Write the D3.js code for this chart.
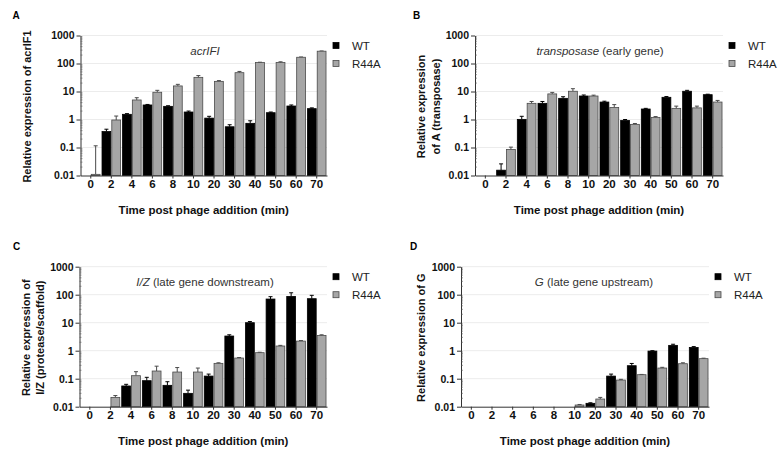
<!DOCTYPE html>
<html>
<head>
<meta charset="utf-8">
<script src="https://cdn.jsdelivr.net/npm/d3@7"></script>
<style>
  body { margin: 0; background: #fff; }
  svg { display: block; font-family: "Liberation Sans", Arial, sans-serif; }
</style>
</head>
<body>
<svg id="fig" width="778" height="451"></svg>
<script>
// time points (x categories) and log axis ticks
var timePoints = ["0", "2", "4", "6", "8", "10", "20", "30", "40", "50", "60", "70"];
var yTicks = [0.01, 0.1, 1, 10, 100, 1000];
var yTickLabels = ["0.01", "0.1", "1", "10", "100", "1000"];
var seriesNames = ["WT", "R44A"];

// A - acrIF1
var acrWT      = [null, 0.37, 1.53, 3.3, 2.95, 1.85, 1.12, 0.55, 0.73, 1.75, 3.03, 2.44];
var acrWTErr   = [null, 0.45, 1.62, 3.45, 3.1, 2.0, 1.3, 0.65, 0.9, 1.85, 3.3, 2.6];
var acrR44A    = [0.011, 0.96, 4.98, 9.4, 15.8, 32, 23, 47, 108, 108, 167, 275];
var acrR44AErr = [0.115, 1.33, 6.0, 11, 18, 37, 24.5, 52, 111, 115, 171, 280];

// B - transposase (early gene)
var tnpWT      = [null, 0.0155, 1.01, 3.78, 5.7, 6.9, 4.2, 0.93, 2.37, 6.2, 10.2, 7.7];
var tnpWTErr   = [null, 0.026, 1.3, 4.4, 6.5, 7.5, 4.5, 1.0, 2.5, 6.6, 11, 8.0];
var tnpR44A    = [null, 0.085, 3.78, 8.2, 10.2, 6.9, 2.7, 0.67, 1.19, 2.5, 2.6, 4.2];
var tnpR44AErr = [null, 0.103, 4.4, 9.3, 12.6, 7.4, 3.4, 0.72, 1.27, 3.0, 3.0, 4.8];

// C - I/Z (late gene downstream)
var izWT      = [null, null, 0.055, 0.085, 0.058, 0.03, 0.124, 3.34, 10, 70, 87, 72];
var izWTErr   = [null, null, 0.063, 0.112, 0.078, 0.039, 0.146, 3.7, 11, 85, 117, 95];
var izR44A    = [null, 0.0215, 0.128, 0.188, 0.173, 0.173, 0.353, 0.547, 0.85, 1.47, 2.2, 3.5];
var izR44AErr = [null, 0.025, 0.178, 0.28, 0.25, 0.24, 0.37, 0.57, 0.88, 1.55, 2.3, 3.7];

// D - G (late gene upstream)
var gWT      = [null, null, null, null, null, null, 0.0132, 0.124, 0.291, 0.97, 1.55, 1.31];
var gWTErr   = [null, null, null, null, null, null, 0.0138, 0.146, 0.35, 1.0, 1.7, 1.4];
var gR44A    = [null, null, null, null, null, 0.0115, 0.0188, 0.0896, 0.139, 0.24, 0.343, 0.52];
var gR44AErr = [null, null, null, null, null, 0.012, 0.0215, 0.095, 0.142, 0.255, 0.37, 0.54];

var colors = { WT: "#000000", R44A: "#a6a6a6" };
var strokes = { WT: "#000000", R44A: "#4a4a4a" };

var svg = d3.select("#fig");

function drawPanel(p) {
    var g = svg.append("g");
    var x = d3.scaleBand().domain(timePoints).range([p.x0, p.x1]);
    var xs = d3.scaleBand().domain(seriesNames).range([0, x.bandwidth()])
        .paddingInner(0.1).paddingOuter(0.1);
    var y = d3.scaleLog().domain([0.01, 1000]).range([p.y1, p.y0]);

    // faint grid at the decades
    g.selectAll(".grid").data(yTicks.slice(1)).enter().append("line")
        .attr("x1", p.x0).attr("x2", p.x1)
        .attr("y1", function(d) { return y(d); }).attr("y2", function(d) { return y(d); })
        .style("stroke", "#ececec").style("stroke-width", 1);

    // bars + error bars
    var series = [
        { name: "WT", vals: p.wt, errs: p.wtErr },
        { name: "R44A", vals: p.r44a, errs: p.r44aErr }
    ];
    series.forEach(function(s) {
        var pts = timePoints.map(function(t, i) {
            return { t: t, v: s.vals[i], e: s.errs[i] };
        }).filter(function(d) { return d.v != null; });

        g.selectAll(".err" + s.name).data(pts.filter(function(d) { return d.e != null; }))
            .enter().append("path")
            .attr("d", function(d) {
                var cx = x(d.t) + xs(s.name) + xs.bandwidth() / 2;
                return "M" + cx + "," + y(d.v) + "V" + y(d.e) +
                    "M" + (cx - 2) + "," + y(d.e) + "H" + (cx + 2);
            })
            .style("fill", "none").style("stroke", strokes[s.name]).style("stroke-width", 1);

        g.selectAll(".bar" + s.name).data(pts).enter().append("rect")
            .attr("x", function(d) { return x(d.t) + xs(s.name); })
            .attr("width", xs.bandwidth())
            .attr("y", function(d) { return y(d.v); })
            .attr("height", function(d) { return Math.max(0.5, y(0.01) - y(d.v)); })
            .style("fill", colors[s.name])
            .style("stroke", strokes[s.name]).style("stroke-width", 0.8);
    });

    // x axis
    var xAxis = g.append("g").attr("transform", "translate(0," + p.y1 + ")")
        .call(d3.axisBottom(x).tickSize(3).tickSizeOuter(0).tickPadding(1));
    xAxis.selectAll("text").style("font-size", "11.5px").style("font-weight", "bold").style("fill", "#111");

    // y axis
    var yAxis = g.append("g").attr("transform", "translate(" + p.x0 + ",0)")
        .call(d3.axisLeft(y).tickValues(yTicks)
            .tickFormat(function(d, i) { return yTickLabels[i]; })
            .tickSize(4).tickSizeOuter(0).tickPadding(2));
    yAxis.selectAll("text").style("font-size", "10.5px").style("font-weight", "bold").style("fill", "#111");
    g.selectAll(".domain, .tick line").style("stroke", "#333");

    // minor ticks, inside the axis
    var minors = [];
    yTicks.slice(0, -1).forEach(function(dec) {
        for (var k = 2; k <= 9; k++) minors.push(dec * k);
    });
    g.selectAll(".minor").data(minors).enter().append("line")
        .attr("x1", p.x0).attr("x2", p.x0 + 2)
        .attr("y1", function(d) { return y(d); }).attr("y2", function(d) { return y(d); })
        .style("stroke", "#555").style("stroke-width", 0.6);

    // axis titles
    g.append("text").attr("x", (p.x0 + p.x1) / 2).attr("y", p.y1 + 38)
        .attr("text-anchor", "middle")
        .style("font-size", "11.5px").style("font-weight", "bold").style("fill", "#111")
        .text("Time post phage addition (min)");

    p.yLabel.forEach(function(line, i) {
        g.append("text")
            .attr("transform", "translate(" + p.yLabelX[i] + "," + ((p.y0 + p.y1) / 2 + 1) + ") rotate(-90)")
            .attr("text-anchor", "middle")
            .style("font-size", "11px").style("font-weight", "bold").style("fill", "#111")
            .text(line);
    });

    // panel letter
    g.append("text").attr("x", p.letterX).attr("y", p.letterY)
        .style("font-size", "10px").style("font-weight", "bold")
        .text(p.letter);

    // gene title inside the plot
    var t = g.append("text").attr("x", p.titleX).attr("y", p.y0 + 19)
        .attr("text-anchor", "middle")
        .style("font-size", "11.5px").style("fill", "#333");
    t.append("tspan").style("font-style", "italic").text(p.titleItalic);
    t.append("tspan").text(p.titleRest);

    // legend
    seriesNames.forEach(function(name, i) {
        var ly = p.y0 + 10 + i * 18;
        g.append("rect").attr("x", p.x1 + 6).attr("y", ly - 3).attr("width", 6).attr("height", 6)
            .style("fill", colors[name]).style("stroke", strokes[name]).style("stroke-width", 0.8);
        g.append("text").attr("x", p.x1 + 25).attr("y", ly + 4)
            .style("font-size", "11.5px").style("fill", "#222")
            .text(name);
    });
}

drawPanel({ letter: "A", letterX: 12.5, letterY: 18.5, x0: 80.5, x1: 327, y0: 35.5, y1: 175.5,
    wt: acrWT, wtErr: acrWTErr, r44a: acrR44A, r44aErr: acrR44AErr,
    titleItalic: "acrIFI", titleRest: "", titleX: 205,
    yLabel: ["Relative expression of acrIF1"], yLabelX: [30.5] });

drawPanel({ letter: "B", letterX: 413, letterY: 18.5, x0: 475, x1: 723, y0: 35.5, y1: 175.5,
    wt: tnpWT, wtErr: tnpWTErr, r44a: tnpR44A, r44aErr: tnpR44AErr,
    titleItalic: "transposase", titleRest: " (early gene)", titleX: 600,
    yLabel: ["Relative expression", "of A (transposase)"], yLabelX: [425, 440] });

drawPanel({ letter: "C", letterX: 13, letterY: 249.5, x0: 79.5, x1: 327, y0: 266.7, y1: 406.7,
    wt: izWT, wtErr: izWTErr, r44a: izR44A, r44aErr: izR44AErr,
    titleItalic: "I/Z", titleRest: " (late gene downstream)", titleX: 205,
    yLabel: ["Relative expression of", "I/Z (protease/scaffold)"], yLabelX: [30, 44] });

drawPanel({ letter: "D", letterX: 410, letterY: 250, x0: 461, x1: 709, y0: 266.7, y1: 406.7,
    wt: gWT, wtErr: gWTErr, r44a: gR44A, r44aErr: gR44AErr,
    titleItalic: "G", titleRest: " (late gene upstream)", titleX: 594,
    yLabel: ["Relative expression of G"], yLabelX: [425] });
</script>
</body>
</html>
